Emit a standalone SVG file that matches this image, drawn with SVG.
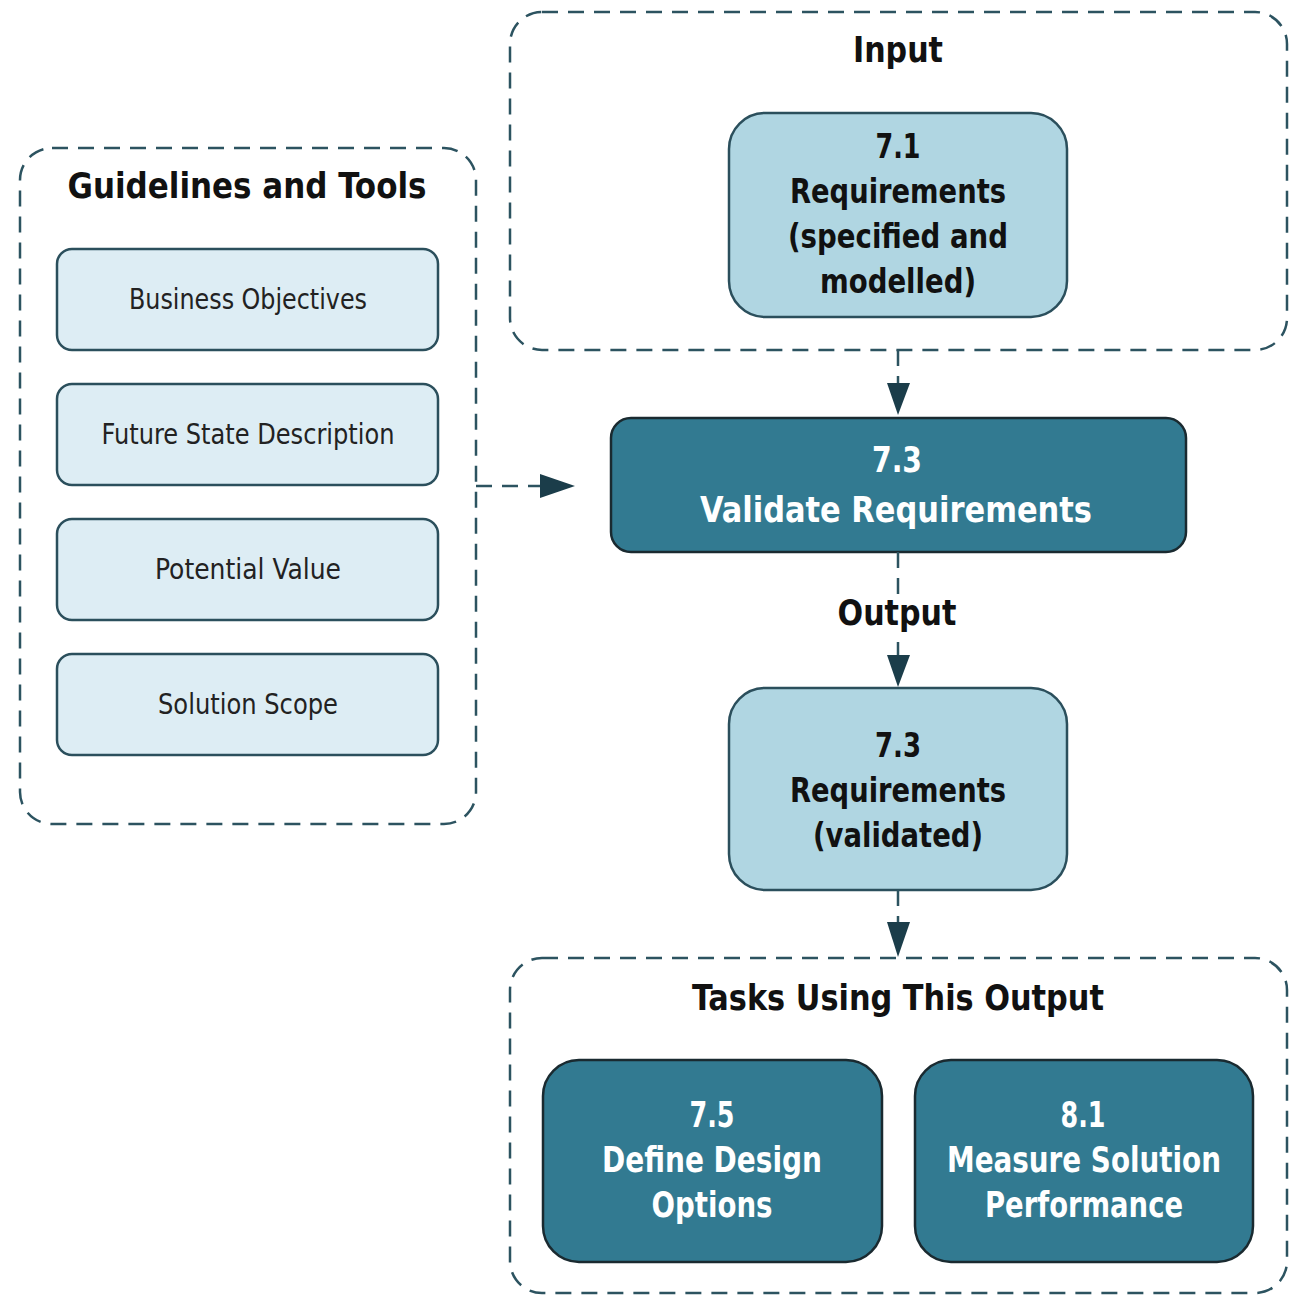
<svg xmlns="http://www.w3.org/2000/svg" width="1299" height="1295" viewBox="0 0 1299 1295">
<style>
.grp{fill:none;stroke:#2c5360;stroke-width:2.5;stroke-dasharray:16 10}
.con{fill:none;stroke:#2c5360;stroke-width:2.5;stroke-dasharray:16 10}
.head{fill:#1b3d4a}
.light{fill:#ddedf4;stroke:#2b4f5c;stroke-width:2.5}
.mid{fill:#b0d6e2;stroke:#2b4f5c;stroke-width:2.5}
.dark{fill:#327a91;stroke:#1a2a30;stroke-width:2.5}
text{font-family:"DejaVu Sans Condensed","Liberation Sans Narrow","Open Sans",sans-serif;text-anchor:middle}
.title{font-size:36px;font-weight:bold;fill:#111}
.small{font-size:29px;fill:#222}
.bk{font-size:33px;font-weight:bold;fill:#111}
.wt{font-size:35px;font-weight:bold;fill:#fff}
</style>
<g id="guidelines">
<rect class="grp" x="20" y="148" width="456" height="676" rx="32"/>
<text class="title" x="247" y="198" textLength="359" lengthAdjust="spacingAndGlyphs">Guidelines and Tools</text>
</g>
<g id="business-objectives">
<rect class="light" x="57" y="249" width="381" height="101" rx="15"/>
<text class="small" x="248" y="309" textLength="238" lengthAdjust="spacingAndGlyphs">Business Objectives</text>
</g>
<g id="future-state">
<rect class="light" x="57" y="384" width="381" height="101" rx="15"/>
<text class="small" x="248" y="444" textLength="293" lengthAdjust="spacingAndGlyphs">Future State Description</text>
</g>
<g id="potential-value">
<rect class="light" x="57" y="519" width="381" height="101" rx="15"/>
<text class="small" x="248" y="579" textLength="186" lengthAdjust="spacingAndGlyphs">Potential Value</text>
</g>
<g id="solution-scope">
<rect class="light" x="57" y="654" width="381" height="101" rx="15"/>
<text class="small" x="248" y="714" textLength="180" lengthAdjust="spacingAndGlyphs">Solution Scope</text>
</g>
<g id="input">
<rect class="grp" x="510" y="12" width="777" height="338" rx="32"/>
<text class="title" x="898" y="62" textLength="90" lengthAdjust="spacingAndGlyphs">Input</text>
</g>
<g id="req-71">
<rect class="mid" x="729" y="113" width="338" height="204" rx="36"/>
<text class="bk" x="898" y="158" textLength="45" lengthAdjust="spacingAndGlyphs">7.1</text>
<text class="bk" x="898" y="203" textLength="216" lengthAdjust="spacingAndGlyphs">Requirements</text>
<text class="bk" x="898" y="248" textLength="220" lengthAdjust="spacingAndGlyphs">(specified and</text>
<text class="bk" x="898" y="293" textLength="156" lengthAdjust="spacingAndGlyphs">modelled)</text>
</g>
<g id="validate-73">
<rect class="dark" x="611" y="418" width="575" height="134" rx="20"/>
<text class="wt" x="897" y="472" textLength="50" lengthAdjust="spacingAndGlyphs">7.3</text>
<text class="wt" x="896" y="522" textLength="392" lengthAdjust="spacingAndGlyphs">Validate Requirements</text>
</g>
<g id="req-73">
<rect class="mid" x="729" y="688" width="338" height="202" rx="36"/>
<text class="bk" x="898" y="757" textLength="46" lengthAdjust="spacingAndGlyphs">7.3</text>
<text class="bk" x="898" y="802" textLength="216" lengthAdjust="spacingAndGlyphs">Requirements</text>
<text class="bk" x="898" y="847" textLength="170" lengthAdjust="spacingAndGlyphs">(validated)</text>
</g>
<g id="tasks">
<rect class="grp" x="510" y="958" width="777" height="335" rx="32"/>
<text class="title" x="898" y="1010" textLength="412" lengthAdjust="spacingAndGlyphs">Tasks Using This Output</text>
</g>
<g id="task-75">
<rect class="dark" x="543" y="1060" width="339" height="202" rx="36"/>
<text class="wt" x="712" y="1127" textLength="45" lengthAdjust="spacingAndGlyphs">7.5</text>
<text class="wt" x="712" y="1172" textLength="220" lengthAdjust="spacingAndGlyphs">Define Design</text>
<text class="wt" x="712" y="1217" textLength="121" lengthAdjust="spacingAndGlyphs">Options</text>
</g>
<g id="task-81">
<rect class="dark" x="915" y="1060" width="338" height="202" rx="36"/>
<text class="wt" x="1083" y="1127" textLength="45" lengthAdjust="spacingAndGlyphs">8.1</text>
<text class="wt" x="1084" y="1172" textLength="274" lengthAdjust="spacingAndGlyphs">Measure Solution</text>
<text class="wt" x="1084" y="1217" textLength="198" lengthAdjust="spacingAndGlyphs">Performance</text>
</g>
<g id="connectors">
<line class="con" x1="898" y1="350" x2="898" y2="384"/>
<polygon class="head" points="887,383 910,383 898,415"/>
<line class="con" x1="476" y1="486" x2="540" y2="486"/>
<polygon class="head" points="540,474 540,498 575,486"/>
<line class="con" x1="898" y1="552" x2="898" y2="596"/>
<line class="con" x1="898" y1="642" x2="898" y2="656"/>
<polygon class="head" points="887,655 910,655 898,687"/>
<text class="title" x="897" y="625" textLength="119" lengthAdjust="spacingAndGlyphs">Output</text>
<line class="con" x1="898" y1="890" x2="898" y2="922"/>
<polygon class="head" points="887,922 910,922 898,957"/>
</g>
</svg>
